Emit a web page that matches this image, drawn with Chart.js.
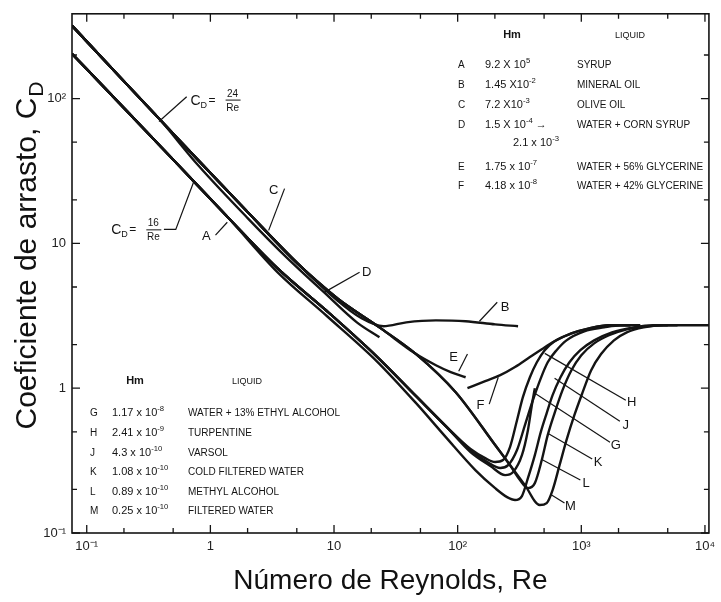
<!DOCTYPE html>
<html>
<head>
<meta charset="utf-8">
<script src="https://cdn.jsdelivr.net/npm/chart.js@4.4.0/dist/chart.umd.min.js"></script>
<style>
  html, body { margin: 0; padding: 0; background: #fff; }
  #wrap { width: 721px; height: 602px; }
</style>
</head>
<body>
<div id="wrap"><canvas id="chart" width="721" height="602"></canvas></div>
<script>
// axis ticks
const reTicks = [0.1, 1, 10, 100, 1000, 10000];
const reTickText = ['10⁻¹', '1', '10', '10²', '10³', '10⁴'];
const reMinor = [0.2, 0.5, 2, 5, 20, 50, 200, 500, 2000, 5000];
const cdTicks = [0.1, 1, 10, 100];
const cdTickText = ['10⁻¹', '1', '10', '10²'];
const cdMinor = [0.2, 0.5, 2, 5, 20, 50, 200];

// curves, [Re, Cd]
const syrupA = [[0.076,204],[0.221,78.8],[0.555,34.5],[1.39,15.1],[3.5,6.72],[8.79,3.4]];
const mineralOilB = [[0.076,319],[0.184,142],[0.384,72.8],[0.8,37.4],[2.01,16.4],[5.06,7.28],[10.6,4.04],[16.7,3.04],[25.1,2.68],[38.4,2.85],[66.7,2.94],[116,2.9],[201,2.76],[308,2.68]];
const oliveOilC = [[0.076,319],[0.184,142],[0.384,72.8],[0.8,37.4],[2.01,16.4],[5.06,7.28],[10.6,4.18]];
const cornSyrupD = [[0.076,319],[0.184,142],[0.384,72.8],[0.8,34.5],[2.01,14.9],[4.21,7.88],[8.32,4.59],[15.3,2.85],[23.3,2.25]];
const glycerine56E = [[0.076,319],[0.184,142],[0.384,72.8],[0.8,37.4],[2.01,16.4],[5.06,7.28],[10.6,4.18],[23.3,2.63],[46.1,1.72],[66.7,1.44],[87.9,1.29],[116,1.19]];
const glycerine42F = [[120,1.0],[167,1.12],[221,1.23],[291,1.4],[384,1.64],[479,1.86],[608,2.11],[832,2.39],[1159,2.59],[1675,2.72],[2500,2.72]];
const ethylAlcoholG = [[0.076,204],[0.221,78.8],[0.555,34.5],[1.39,15.1],[3.5,6.72],[8.79,3.4],[22.1,1.66],[46.1,0.881],[80.2,0.547],[127,0.362],[184,0.29],[242,0.251],[281,0.264],[331,0.345],[370,0.513],[398,0.763],[421,1.0]];
const turpentineH = [[0.076,204],[0.221,78.8],[0.555,34.5],[1.39,15.1],[3.5,6.72],[8.79,3.4],[22.1,1.66],[46.1,0.881],[80.2,0.547],[127,0.38],[167,0.329],[201,0.309],[233,0.319],[265,0.392],[302,0.601],[337,0.867],[384,1.19],[437,1.51],[506,1.83],[608,2.11],[832,2.39],[1159,2.59],[1675,2.72],[2500,2.72]];
const varsolJ = [[0.076,204],[0.221,78.8],[0.555,34.5],[1.39,15.1],[3.5,6.72],[8.79,3.4],[22.1,1.66],[46.1,0.881],[80.2,0.547],[127,0.374],[174,0.309],[221,0.281],[256,0.294],[302,0.374],[350,0.556],[406,0.826],[470,1.17],[535,1.51],[631,1.83],[759,2.14],[1057,2.47],[1528,2.63],[2089,2.72],[3000,2.72]];
const coldWaterK = [[0.076,204],[0.221,78.8],[0.555,34.5],[1.39,15.1],[3.5,6.31],[8.79,3.14],[22.1,1.54],[46.1,0.788],[80.2,0.459],[139,0.272],[201,0.204],[251,0.177],[291,0.169],[331,0.18],[370,0.239],[421,0.345],[470,0.497],[525,0.673],[586,0.895],[679,1.19],[802,1.51],[982,1.83],[1271,2.14],[1770,2.43],[2655,2.63],[3837,2.72],[5000,2.72]];
const methylAlcoholL = [[0.076,319],[0.184,142],[0.384,72.8],[0.8,37.4],[2.01,16.4],[5.06,7.28],[10.6,4.18],[23.3,2.63],[46.1,1.72],[96.4,0.938],[201,0.405],[265,0.294],[319,0.232],[370,0.204],[421,0.221],[479,0.319],[535,0.474],[608,0.673],[705,0.969],[832,1.33],[1000,1.69],[1271,2.04],[1675,2.32],[2333,2.55],[3373,2.68],[4613,2.72],[6000,2.72]];
const filteredWaterM = [[0.076,319],[0.184,142],[0.384,72.8],[0.8,37.4],[2.01,16.4],[5.06,7.28],[10.6,4.18],[23.3,2.63],[46.1,1.72],[96.4,0.938],[201,0.405],[350,0.214],[461,0.156],[525,0.161],[586,0.198],[667,0.294],[759,0.438],[879,0.651],[1019,0.924],[1202,1.33],[1445,1.72],[1837,2.14],[2333,2.43],[3192,2.63],[4613,2.72],[10800,2.72]];

const curves = [syrupA, mineralOilB, oliveOilC, cornSyrupD, glycerine56E, glycerine42F,
  ethylAlcoholG, turpentineH, varsolJ, coldWaterK, methylAlcoholL, filteredWaterM];

// legend tables
const topRows = [
  ['A', '9.2 X 10^{5}', 'SYRUP'],
  ['B', '1.45 X10^{-2}', 'MINERAL OIL'],
  ['C', '7.2 X10^{-3}', 'OLIVE OIL'],
  ['D', '1.5 X 10^{-4} →', 'WATER + CORN SYRUP'],
  ['', '2.1 x 10^{-3}', ''],
  ['E', '1.75 x 10^{-7}', 'WATER + 56% GLYCERINE'],
  ['F', '4.18 x 10^{-8}', 'WATER + 42% GLYCERINE']
];
const bottomRows = [
  ['G', '1.17 x 10^{-8}', 'WATER + 13% ETHYL ALCOHOL'],
  ['H', '2.41 x 10^{-9}', 'TURPENTINE'],
  ['J', '4.3 x 10^{-10}', 'VARSOL'],
  ['K', '1.08 x 10^{-10}', 'COLD FILTERED WATER'],
  ['L', '0.89 x 10^{-10}', 'METHYL ALCOHOL'],
  ['M', '0.25 x 10^{-10}', 'FILTERED WATER']
];

// curve tags with leader lines (data coordinates)
const curveTags = [
  { text: 'A', at: [0.929, 11.2], leader: [[1.10, 11.4], [1.37, 14.0]] },
  { text: 'C', at: [3.25, 23.2], leader: [[3.98, 23.9], [2.96, 12.3]] },
  { text: 'D', at: [18.4, 6.31], leader: [[16.1, 6.31], [8.32, 4.59]] },
  { text: 'B', at: [242, 3.62], leader: [[209, 3.92], [150, 2.9]] },
  { text: 'E', at: [92.9, 1.64], leader: [[120, 1.72], [102, 1.31]] },
  { text: 'F', at: [153, 0.763], leader: [[180, 0.776], [213, 1.19]] },
  { text: 'H', at: [2559, 0.8], leader: [[2291, 0.826], [506, 1.74]] },
  { text: 'J', at: [2291, 0.556], leader: [[2051, 0.592], [608, 1.17]] },
  { text: 'G', at: [1905, 0.405], leader: [[1706, 0.424], [421, 0.924]] },
  { text: 'K', at: [1368, 0.309], leader: [[1225, 0.324], [535, 0.489]] },
  { text: 'L', at: [1096, 0.221], leader: [[982, 0.232], [488, 0.319]] },
  { text: 'M', at: [817, 0.153], leader: [[731, 0.161], [575, 0.183]] }
];
const cdTags = [
  { num: '24', at: [0.692, 98.4], leader: [[0.643, 103], [0.384, 69.4]] },
  { num: '16', at: [0.158, 12.5], leader: [[0.421, 12.5], [0.525, 12.5], [0.731, 26.4]] }
];

const FONT = "'Liberation Sans', Arial, Helvetica, sans-serif";
const INK = '#141414';

function drawRich(ctx, s, x, y, size) {
  const parts = [];
  const re = /\^\{([^}]*)\}/g;
  let last = 0, m;
  while ((m = re.exec(s))) {
    if (m.index > last) parts.push([s.slice(last, m.index), false]);
    parts.push([m[1], true]);
    last = re.lastIndex;
  }
  if (last < s.length) parts.push([s.slice(last), false]);
  let cx = x;
  const base = y + size * 0.35;
  parts.forEach(([t, sup]) => {
    const fs = sup ? size * 0.7 : size;
    ctx.font = `${fs}px ${FONT}`;
    ctx.fillText(t, cx, sup ? base - size * 0.42 : base);
    cx += ctx.measureText(t).width;
  });
}

function drawCd(ctx, x0, ym, num) {
  ctx.textAlign = 'left';
  ctx.textBaseline = 'alphabetic';
  ctx.font = `14px ${FONT}`;
  ctx.fillText('C', x0, ym + 5);
  ctx.font = `9px ${FONT}`;
  ctx.fillText('D', x0 + 10, ym + 8);
  ctx.font = `12px ${FONT}`;
  ctx.fillText('=', x0 + 18, ym + 4);
  ctx.textAlign = 'center';
  ctx.font = `10px ${FONT}`;
  ctx.fillText(num, x0 + 42, ym - 3);
  ctx.fillText('Re', x0 + 42, ym + 11);
  ctx.beginPath();
  ctx.moveTo(x0 + 35, ym + 0.5);
  ctx.lineTo(x0 + 50, ym + 0.5);
  ctx.lineWidth = 1;
  ctx.stroke();
}

const decor = {
  id: 'decor',
  afterDraw(chart) {
    const { ctx, chartArea: a, scales: { x, y } } = chart;
    ctx.save();
    ctx.strokeStyle = INK;
    ctx.fillStyle = INK;

    // frame
    ctx.lineWidth = 1.6;
    ctx.strokeRect(a.left, a.top, a.right - a.left, a.bottom - a.top);

    // inward ticks on all four sides
    ctx.lineWidth = 1.3;
    ctx.beginPath();
    const xt = (v, len) => {
      const p = x.getPixelForValue(v);
      if (p < a.left || p > a.right) return;
      ctx.moveTo(p, a.bottom); ctx.lineTo(p, a.bottom - len);
      ctx.moveTo(p, a.top); ctx.lineTo(p, a.top + len);
    };
    const yt = (v, len) => {
      const p = y.getPixelForValue(v);
      if (p < a.top || p > a.bottom) return;
      ctx.moveTo(a.left, p); ctx.lineTo(a.left + len, p);
      ctx.moveTo(a.right, p); ctx.lineTo(a.right - len, p);
    };
    reTicks.forEach(v => xt(v, 8));
    reMinor.forEach(v => xt(v, 5));
    cdTicks.forEach(v => yt(v, 8));
    cdMinor.forEach(v => yt(v, 5));
    ctx.stroke();

    // y title with subscript
    ctx.save();
    ctx.translate(36, 256);
    ctx.rotate(-Math.PI / 2);
    ctx.textBaseline = 'alphabetic';
    ctx.textAlign = 'left';
    const t1 = 'Coeficiente de arrasto, C';
    ctx.font = `30px ${FONT}`;
    const w1 = ctx.measureText(t1).width;
    ctx.font = `21px ${FONT}`;
    const w2 = ctx.measureText('D').width;
    const sx = -(w1 + w2) / 2;
    ctx.fillStyle = '#111';
    ctx.font = `30px ${FONT}`;
    ctx.fillText(t1, sx, 0);
    ctx.font = `21px ${FONT}`;
    ctx.fillText('D', sx + w1 + 1, 7);
    ctx.restore();

    // leader lines
    ctx.lineWidth = 1.2;
    [...curveTags, ...cdTags].forEach(tag => {
      ctx.beginPath();
      tag.leader.forEach((p, i) => {
        const px = x.getPixelForValue(p[0]);
        const py = y.getPixelForValue(p[1]);
        if (i === 0) ctx.moveTo(px, py); else ctx.lineTo(px, py);
      });
      ctx.stroke();
    });

    // curve letters
    ctx.textAlign = 'center';
    ctx.textBaseline = 'middle';
    ctx.font = `13px ${FONT}`;
    curveTags.forEach(tag => {
      ctx.fillText(tag.text, x.getPixelForValue(tag.at[0]), y.getPixelForValue(tag.at[1]));
    });
    cdTags.forEach(tag => {
      drawCd(ctx, x.getPixelForValue(tag.at[0]), y.getPixelForValue(tag.at[1]), tag.num);
    });

    // legend tables
    ctx.textBaseline = 'alphabetic';
    ctx.textAlign = 'center';
    ctx.font = `bold 11px ${FONT}`;
    ctx.fillText('Hm', 512, 38);
    ctx.fillText('Hm', 135, 384);
    ctx.font = `9px ${FONT}`;
    ctx.fillText('LIQUID', 630, 38);
    ctx.fillText('LIQUID', 247, 384);

    ctx.textAlign = 'left';
    const topY = [64, 84, 104, 124, 142, 166, 185];
    topRows.forEach((r, i) => {
      const yy = topY[i];
      ctx.font = `10px ${FONT}`;
      ctx.fillText(r[0], 458, yy + 3.5);
      drawRich(ctx, r[1], r[0] ? 485 : 513, yy, 11);
      ctx.font = `10px ${FONT}`;
      ctx.fillText(r[2], 577, yy + 3.5);
    });
    const botY = [412, 432, 452, 471, 491, 510];
    bottomRows.forEach((r, i) => {
      const yy = botY[i];
      ctx.font = `10px ${FONT}`;
      ctx.fillText(r[0], 90, yy + 3.5);
      drawRich(ctx, r[1], 112, yy, 11);
      ctx.font = `10px ${FONT}`;
      ctx.fillText(r[2], 188, yy + 3.5);
    });

    ctx.restore();
  }
};

new Chart(document.getElementById('chart'), {
  type: 'line',
  data: {
    datasets: curves.map(c => ({
      data: c.map(p => ({ x: p[0], y: p[1] })),
      borderColor: INK,
      borderWidth: 2.4,
      pointRadius: 0,
      fill: false,
      cubicInterpolationMode: 'monotone'
    }))
  },
  options: {
    responsive: false,
    animation: false,
    devicePixelRatio: 1,
    layout: { padding: { top: 13, right: 5, left: 0, bottom: 0 } },
    plugins: { legend: { display: false }, tooltip: { enabled: false } },
    scales: {
      x: {
        type: 'logarithmic',
        min: 0.076,
        max: 10770,
        afterBuildTicks: ax => { ax.ticks = reTicks.map(v => ({ value: v })); },
        afterFit: ax => { ax.height = 69; },
        grid: { display: false, drawTicks: false },
        border: { display: false },
        ticks: {
          autoSkip: false, maxRotation: 0, padding: 6, color: '#222',
          font: { family: FONT, size: 13 },
          callback: (v, i) => reTickText[i]
        },
        title: {
          display: true, text: 'Número de Reynolds, Re', color: '#111',
          font: { family: FONT, size: 28 }, padding: { top: 0, bottom: 4 }
        }
      },
      y: {
        type: 'logarithmic',
        min: 0.1,
        max: 385,
        afterBuildTicks: ax => { ax.ticks = cdTicks.map(v => ({ value: v })); },
        afterFit: ax => { ax.width = 72; },
        grid: { display: false, drawTicks: false },
        border: { display: false },
        ticks: {
          autoSkip: false, padding: 6, color: '#222',
          font: { family: FONT, size: 13 },
          callback: (v, i) => cdTickText[i]
        }
      }
    }
  },
  plugins: [decor]
});
</script>
</body>
</html>
